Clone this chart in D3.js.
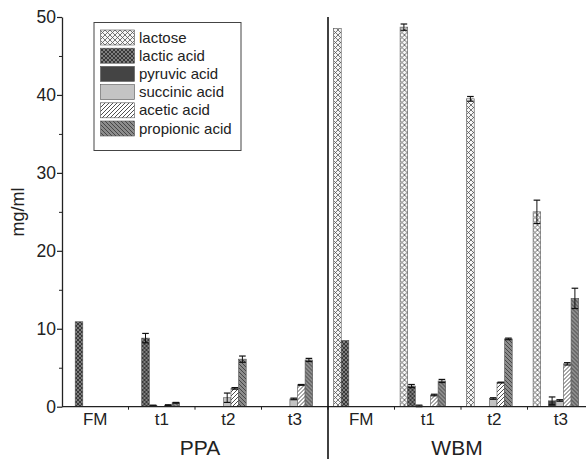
<!DOCTYPE html>
<html>
<head>
<meta charset="utf-8">
<script src="https://cdn.jsdelivr.net/npm/d3@7"></script>
<style>
  body { margin: 0; background: #fff; }
  text { font-family: "Liberation Sans", Arial, sans-serif; fill: #222; }
</style>
</head>
<body>
<div id="chart"></div>
<script>
// Data
const groups = ["PPA", "WBM"];
const times = ["FM", "t1", "t2", "t3"];
const series = ["lactose", "lactic acid", "pyruvic acid", "succinic acid", "acetic acid", "propionic acid"];

// values per series, order: PPA FM,t1,t2,t3, WBM FM,t1,t2,t3
const lactose   = [0, 0, 0, 0, 48.5, 48.7, 39.5, 25.0];
const lactic    = [10.9, 8.8, 0, 0, 8.5, 2.65, 0, 0];
const pyruvic   = [0, 0.15, 0.05, 0, 0, 0.1, 0, 0.75];
const succinic  = [0, 0, 1.15, 1.0, 0, 0, 1.05, 0.8];
const acetic    = [0, 0.2, 2.35, 2.8, 0, 1.5, 3.1, 5.5];
const propionic = [0, 0.5, 6.1, 6.0, 0, 3.3, 8.7, 13.9];

// standard deviations
const lactoseErr   = [0, 0, 0, 0, 0, 0.4, 0.3, 1.5];
const lacticErr    = [0, 0.6, 0, 0, 0, 0.2, 0, 0];
const pyruvicErr   = [0, 0.05, 0, 0, 0, 0.1, 0, 0.5];
const succinicErr  = [0, 0, 0.6, 0.1, 0, 0, 0.1, 0.1];
const aceticErr    = [0, 0.05, 0.1, 0.05, 0, 0.1, 0.05, 0.15];
const propionicErr = [0, 0.05, 0.4, 0.2, 0, 0.2, 0.1, 1.3];

const yTicks = [0, 10, 20, 30, 40, 50];
const yMinor = [5, 15, 25, 35, 45];

const values = [lactose, lactic, pyruvic, succinic, acetic, propionic];
const errors = [lactoseErr, lacticErr, pyruvicErr, succinicErr, aceticErr, propionicErr];

const cats = [];
groups.forEach(g => times.forEach(t => cats.push(g + "|" + t)));

const W = 586, H = 459;
const svg = d3.select("#chart").append("svg")
    .attr("width", W).attr("height", H);

// patterns
const defs = svg.append("defs");
function hatch(id, bg, stroke, dirs, size) {
    const p = defs.append("pattern")
        .attr("id", id).attr("patternUnits", "userSpaceOnUse")
        .attr("width", size).attr("height", size);
    p.append("rect").attr("width", size).attr("height", size).attr("fill", bg);
    dirs.forEach(d => {
        const path = d === "/"
            ? `M0,${size} L${size},0 M${-size/2},${size/2} L${size/2},${-size/2} M${size/2},${size*1.5} L${size*1.5},${size/2}`
            : `M0,0 L${size},${size} M${-size/2},${size/2} L${size/2},${size*1.5} M${size/2},${-size/2} L${size*1.5},${size/2}`;
        p.append("path").attr("d", path).attr("stroke", stroke).attr("stroke-width", 0.8);
    });
}
hatch("p0", "#f6f6f6", "#555", ["/", "\\"], 5);
hatch("p1", "#7e7e7e", "#262626", ["/", "\\"], 4);
hatch("p4", "#ffffff", "#222", ["/"], 4);
hatch("p5", "#8c8c8c", "#333", ["\\"], 4);

const fills = ["url(#p0)", "url(#p1)", "#444444", "#c4c4c4", "url(#p4)", "url(#p5)"];

// scales
const y = d3.scaleLinear().domain([0, 50]).range([406.7, 17]);
const x0 = d3.scaleBand().domain(cats).range([62, 594]).padding(0);
const x1 = d3.scaleBand().domain(series).range([5.6, 5.6 + 6 * 7.6]).padding(0);

// bars
cats.forEach((c, ci) => {
    const g = svg.append("g").attr("transform", `translate(${x0(c)},0)`);
    series.forEach((s, si) => {
        const v = values[si][ci];
        if (v <= 0) return;
        g.append("rect")
            .attr("x", x1(s))
            .attr("width", x1.bandwidth())
            .attr("y", y(v))
            .attr("height", y(0) - y(v))
            .attr("fill", fills[si])
            .attr("stroke", "#555")
            .attr("stroke-width", 0.6);
        const e = errors[si][ci];
        if (e > 0) {
            const cx = x1(s) + x1.bandwidth() / 2;
            const hw = x1.bandwidth() / 2 - 0.5;
            g.append("line").attr("x1", cx).attr("x2", cx)
                .attr("y1", y(v - e)).attr("y2", y(v + e))
                .attr("stroke", "#111").attr("stroke-width", 1);
            [v - e, v + e].forEach(val => {
                g.append("line").attr("x1", cx - hw).attr("x2", cx + hw)
                    .attr("y1", y(val)).attr("y2", y(val))
                    .attr("stroke", "#111").attr("stroke-width", 1.2);
            });
        }
    });
});

// y axis
const yAxis = svg.append("g").attr("transform", "translate(62,0)")
    .call(d3.axisLeft(y).tickValues(yTicks).tickSize(5).tickSizeOuter(0).tickPadding(1));
yAxis.select(".domain").attr("stroke", "#222").attr("stroke-width", 1.3);
yAxis.selectAll(".tick line").attr("stroke", "#222").attr("stroke-width", 1.2);
yAxis.selectAll("text").style("font-size", "17.5px").attr("fill", "#222");
svg.append("g").attr("transform", "translate(62,0)")
    .call(d3.axisLeft(y).tickValues(yMinor).tickSize(3).tickFormat(""))
    .call(a => a.select(".domain").remove())
    .selectAll(".tick line").attr("stroke", "#222");

// x axis
svg.append("line").attr("x1", 62).attr("x2", W)
    .attr("y1", y(0)).attr("y2", y(0))
    .attr("stroke", "#222").attr("stroke-width", 1.3);
const xAxis = svg.append("g").attr("transform", `translate(0,${y(0)})`)
    .call(d3.axisBottom(x0).tickSize(0).tickPadding(6).tickFormat(d => d.split("|")[1]));
xAxis.select(".domain").remove();
xAxis.selectAll("text").style("font-size", "17px").attr("fill", "#222");
cats.slice(1).forEach(c => {
    svg.append("line").attr("x1", x0(c)).attr("x2", x0(c))
        .attr("y1", y(0)).attr("y2", y(0) + 3)
        .attr("stroke", "#222");
});

// divider
svg.append("line")
    .attr("x1", x0("WBM|FM")).attr("x2", x0("WBM|FM"))
    .attr("y1", 17).attr("y2", H)
    .attr("stroke", "#111").attr("stroke-width", 1.6);

// group labels
groups.forEach(gn => {
    const xs = x0(gn + "|FM"), xe = x0(gn + "|t3") + x0.bandwidth();
    svg.append("text")
        .attr("x", gn === "PPA" ? (xs + xe) / 2 + 5 : (xs + xe) / 2 - 4)
        .attr("y", 455)
        .attr("text-anchor", "middle")
        .style("font-size", "21px")
        .text(gn);
});

// y title
svg.append("text")
    .attr("transform", "translate(24,212) rotate(-90)")
    .attr("text-anchor", "middle")
    .style("font-size", "18px")
    .text("mg/ml");

// legend
const lg = svg.append("g");
lg.append("rect").attr("x", 94).attr("y", 22.5).attr("width", 147).attr("height", 128)
    .attr("fill", "#fff").attr("stroke", "#444").attr("stroke-width", 1);
series.forEach((s, i) => {
    const yy = 30 + i * 18.2;
    lg.append("rect").attr("x", 100.5).attr("y", yy).attr("width", 34).attr("height", 15)
        .attr("fill", fills[i]).attr("stroke", "#555").attr("stroke-width", 0.6);
    lg.append("text").attr("x", 139).attr("y", yy + 12.5)
        .style("font-size", "15px").text(s);
});
</script>
</body>
</html>
